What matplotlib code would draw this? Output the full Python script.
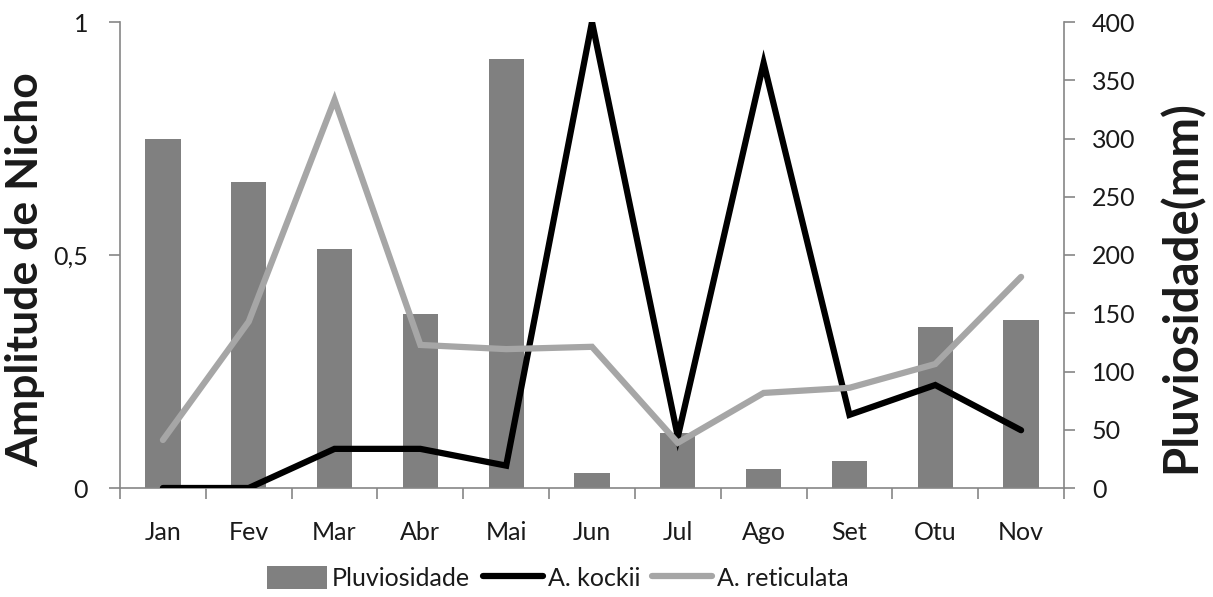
import matplotlib
matplotlib.use("Agg")
import matplotlib.pyplot as plt
import numpy as np

# Monthly data
months = ["Jan", "Fev", "Mar", "Abr", "Mai", "Jun", "Jul", "Ago", "Set", "Otu", "Nov"]
pluviosidade = [300, 263, 205, 149, 368, 13, 47, 16, 23, 138, 144]          # mm
a_kockii = [0.0, 0.0, 0.084, 0.084, 0.048, 1.0, 0.11, 0.912, 0.157, 0.221, 0.124]
a_reticulata = [0.103, 0.357, 0.833, 0.307, 0.298, 0.303, 0.097, 0.204, 0.215, 0.266, 0.453]

left_ticks = [0, 0.5, 1]
left_ticklabels = ["0", "0,5", "1"]
right_ticks = list(range(0, 401, 50))

plt.rcParams["font.family"] = ["Lato", "DejaVu Sans"]

TEXT = "#1a1a1a"
AXIS = "#868686"
BAR = "#808080"
LIGHT = "#a6a6a6"

fig = plt.figure(figsize=(12.13, 5.97), dpi=100)
ax = fig.add_axes([120 / 1213, 1 - 488 / 597, (1064 - 120) / 1213, (488 - 22) / 597])
axl = ax.twinx()  # carries the niche-breadth lines, drawn above the bars
x = np.arange(len(months))

# Rainfall bars on the right-hand axis
bars = ax.bar(x, pluviosidade, width=0.41, color=BAR, label="Pluviosidade", zorder=2)
ax.set_ylim(0, 400)
ax.set_xlim(-0.5, len(months) - 0.5)
ax.yaxis.tick_right()
ax.yaxis.set_label_position("right")
ax.set_yticks(right_ticks)
ax.tick_params(axis="y", direction="out", length=8, width=1.2, color=AXIS,
               labelsize=18, labelcolor=TEXT, pad=12)
ax.set_ylabel("Pluviosidade(mm)", fontsize=34, fontweight="bold", color=TEXT)
ax.yaxis.set_label_coords(1.1, 0.433)

# Category axis: ticks between months, labels at centres
ax.set_xticks(x)
ax.set_xticklabels(months)
ax.set_xticks(np.arange(-0.5, len(months), 1.0), minor=True)
ax.tick_params(axis="x", which="major", length=0, labelsize=18, labelcolor=TEXT, pad=24)
ax.tick_params(axis="x", which="minor", direction="out", length=8, width=1.2, color=AXIS)

for side in ("top", "left"):
    ax.spines[side].set_visible(False)
ax.spines["right"].set_color(AXIS)
ax.spines["right"].set_linewidth(1.2)
ax.spines["bottom"].set_color(AXIS)
ax.spines["bottom"].set_linewidth(1.2)

# Niche breadth lines on the left-hand axis
axl.yaxis.tick_left()
axl.yaxis.set_label_position("left")
l1, = axl.plot(x, a_kockii, color="black", lw=4.5, label="A. kockii",
               solid_joinstyle="miter", solid_capstyle="round", zorder=3)
l2, = axl.plot(x, a_reticulata, color=LIGHT, lw=4.5, label="A. reticulata",
               solid_joinstyle="miter", solid_capstyle="round", zorder=3)
axl.set_ylim(0, 1)
axl.set_yticks(left_ticks)
axl.set_yticklabels(left_ticklabels)
axl.tick_params(axis="y", direction="out", length=8, width=1.2, color=AXIS,
                labelsize=18, labelcolor=TEXT, pad=15)
axl.set_ylabel("Amplitude de Nicho", fontsize=32, fontweight="bold", color=TEXT)
axl.yaxis.set_label_coords(-0.079, 0.468)
for side in ("top", "right", "bottom"):
    axl.spines[side].set_visible(False)
axl.spines["left"].set_color(AXIS)
axl.spines["left"].set_linewidth(1.2)

fig.legend(handles=[bars, l1, l2], labels=["Pluviosidade", "A. kockii", "A. reticulata"],
           loc="center", bbox_to_anchor=(558 / 1213, 1 - 578 / 597), ncol=3,
           frameon=False, fontsize=18, labelcolor=TEXT, handlelength=2.4,
           handleheight=1.0, handletextpad=0.2, columnspacing=0.5)

fig.savefig("out.png", dpi=100, facecolor="white")
